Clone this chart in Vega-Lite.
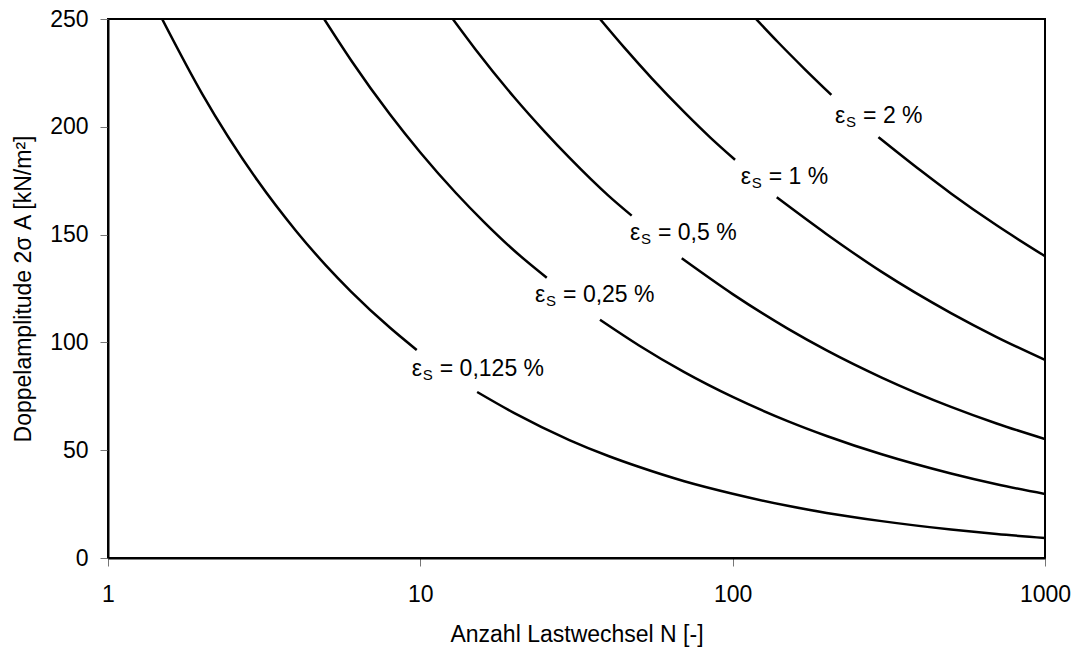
{
  "$schema": "https://vega.github.io/schema/vega-lite/v6.json",
  "width": 937,
  "height": 539,
  "autosize": {"type": "none"},
  "padding": {"left": 108, "top": 19, "right": 37, "bottom": 92},
  "background": "white",
  "config": {
    "view": {"stroke": "black", "strokeWidth": 2},
    "font": "Liberation Sans",
    "axis": {
      "grid": false,
      "domainColor": "black",
      "domainWidth": 2,
      "tickColor": "#777777",
      "tickWidth": 1,
      "tickSize": 8,
      "labelFont": "Liberation Sans",
      "labelFontSize": 23,
      "labelColor": "black",
      "titleFont": "Liberation Sans",
      "titleFontSize": 23,
      "titleFontWeight": "normal",
      "titleColor": "black"
    }
  },
  "datasets": {
    "curves": [
      {"curve": "0,125", "seg": "a", "N": 1.49, "v": 250},
      {"curve": "0,125", "seg": "a", "N": 2, "v": 215.4},
      {"curve": "0,125", "seg": "a", "N": 3, "v": 175.4},
      {"curve": "0,125", "seg": "a", "N": 4, "v": 151.7},
      {"curve": "0,125", "seg": "a", "N": 5, "v": 135.5},
      {"curve": "0,125", "seg": "a", "N": 6, "v": 123.6},
      {"curve": "0,125", "seg": "a", "N": 8, "v": 106.8},
      {"curve": "0,125", "seg": "a", "N": 9.74, "v": 96.5},
      {"curve": "0,125", "seg": "b", "N": 15.2, "v": 77},
      {"curve": "0,125", "seg": "b", "N": 20, "v": 67.2},
      {"curve": "0,125", "seg": "b", "N": 30, "v": 54.7},
      {"curve": "0,125", "seg": "b", "N": 40, "v": 47.3},
      {"curve": "0,125", "seg": "b", "N": 50, "v": 42.3},
      {"curve": "0,125", "seg": "b", "N": 70, "v": 35.6},
      {"curve": "0,125", "seg": "b", "N": 100, "v": 29.8},
      {"curve": "0,125", "seg": "b", "N": 150, "v": 24.2},
      {"curve": "0,125", "seg": "b", "N": 200, "v": 20.9},
      {"curve": "0,125", "seg": "b", "N": 300, "v": 17.1},
      {"curve": "0,125", "seg": "b", "N": 500, "v": 13.2},
      {"curve": "0,125", "seg": "b", "N": 700, "v": 11.1},
      {"curve": "0,125", "seg": "b", "N": 1000, "v": 9.3},

      {"curve": "0,25", "seg": "a", "N": 4.92, "v": 250},
      {"curve": "0,25", "seg": "a", "N": 6, "v": 230.9},
      {"curve": "0,25", "seg": "a", "N": 8, "v": 205.7},
      {"curve": "0,25", "seg": "a", "N": 10, "v": 188.1},
      {"curve": "0,25", "seg": "a", "N": 13, "v": 169.3},
      {"curve": "0,25", "seg": "a", "N": 16, "v": 155.8},
      {"curve": "0,25", "seg": "a", "N": 20, "v": 142.5},
      {"curve": "0,25", "seg": "a", "N": 25.4, "v": 130},
      {"curve": "0,25", "seg": "b", "N": 37.6, "v": 110.5},
      {"curve": "0,25", "seg": "b", "N": 50, "v": 98.7},
      {"curve": "0,25", "seg": "b", "N": 70, "v": 86.2},
      {"curve": "0,25", "seg": "b", "N": 100, "v": 74.7},
      {"curve": "0,25", "seg": "b", "N": 150, "v": 63.5},
      {"curve": "0,25", "seg": "b", "N": 200, "v": 56.6},
      {"curve": "0,25", "seg": "b", "N": 300, "v": 48.1},
      {"curve": "0,25", "seg": "b", "N": 500, "v": 39.2},
      {"curve": "0,25", "seg": "b", "N": 700, "v": 34.2},
      {"curve": "0,25", "seg": "b", "N": 1000, "v": 29.7},

      {"curve": "0,5", "seg": "a", "N": 12.7, "v": 250},
      {"curve": "0,5", "seg": "a", "N": 15, "v": 236},
      {"curve": "0,5", "seg": "a", "N": 20, "v": 213.6},
      {"curve": "0,5", "seg": "a", "N": 25, "v": 197.8},
      {"curve": "0,5", "seg": "a", "N": 30, "v": 185.7},
      {"curve": "0,5", "seg": "a", "N": 40, "v": 168.1},
      {"curve": "0,5", "seg": "a", "N": 47.5, "v": 158.8},
      {"curve": "0,5", "seg": "b", "N": 68.7, "v": 139},
      {"curve": "0,5", "seg": "b", "N": 100, "v": 122.4},
      {"curve": "0,5", "seg": "b", "N": 150, "v": 106.4},
      {"curve": "0,5", "seg": "b", "N": 200, "v": 96.3},
      {"curve": "0,5", "seg": "b", "N": 300, "v": 83.7},
      {"curve": "0,5", "seg": "b", "N": 500, "v": 70.1},
      {"curve": "0,5", "seg": "b", "N": 700, "v": 62.4},
      {"curve": "0,5", "seg": "b", "N": 1000, "v": 55.2},

      {"curve": "1", "seg": "a", "N": 37.6, "v": 250},
      {"curve": "1", "seg": "a", "N": 45, "v": 236.7},
      {"curve": "1", "seg": "a", "N": 55, "v": 222.6},
      {"curve": "1", "seg": "a", "N": 70, "v": 206.8},
      {"curve": "1", "seg": "a", "N": 85, "v": 194.9},
      {"curve": "1", "seg": "a", "N": 101.8, "v": 184.7},
      {"curve": "1", "seg": "b", "N": 138.4, "v": 167.3},
      {"curve": "1", "seg": "b", "N": 200, "v": 150.2},
      {"curve": "1", "seg": "b", "N": 300, "v": 132.7},
      {"curve": "1", "seg": "b", "N": 500, "v": 113.6},
      {"curve": "1", "seg": "b", "N": 700, "v": 102.5},
      {"curve": "1", "seg": "b", "N": 1000, "v": 91.9},

      {"curve": "2", "seg": "a", "N": 118.8, "v": 250},
      {"curve": "2", "seg": "a", "N": 140, "v": 239.1},
      {"curve": "2", "seg": "a", "N": 170, "v": 226.8},
      {"curve": "2", "seg": "a", "N": 207, "v": 214.8},
      {"curve": "2", "seg": "b", "N": 293, "v": 195.2},
      {"curve": "2", "seg": "b", "N": 400, "v": 179.7},
      {"curve": "2", "seg": "b", "N": 500, "v": 169.1},
      {"curve": "2", "seg": "b", "N": 700, "v": 154.3},
      {"curve": "2", "seg": "b", "N": 1000, "v": 140}
    ],
    "labels": [
      {"N": 9.39, "v": 84.4, "rest": "= 0,125 %"},
      {"N": 23.3, "v": 118.9, "rest": "= 0,25 %"},
      {"N": 46.9, "v": 147.5, "rest": "= 0,5 %"},
      {"N": 106.1, "v": 173.3, "rest": "= 1 %"},
      {"N": 212.8, "v": 201.6, "rest": "= 2 %"}
    ]
  },
  "encoding": {
    "x": {
      "field": "N",
      "type": "quantitative",
      "scale": {"type": "log", "domain": [1, 1000], "nice": false},
      "axis": {"values": [1, 10, 100, 1000], "format": "d", "title": "Anzahl Lastwechsel N [-]", "labelFlush": false, "labelPadding": 17, "titlePadding": 17, "tickSize": 8}
    },
    "y": {
      "field": "v",
      "type": "quantitative",
      "scale": {"domain": [0, 250], "nice": false},
      "axis": {"values": [0, 50, 100, 150, 200, 250], "title": "Doppelamplitude 2σ A [kN/m²]", "labelPadding": 12, "titlePadding": 14}
    }
  },
  "layer": [
    {
      "data": {"name": "curves"},
      "mark": {"type": "line", "color": "black", "strokeWidth": 2.5, "interpolate": "monotone", "clip": true},
      "encoding": {
        "detail": [{"field": "curve"}, {"field": "seg"}]
      }
    },
    {
      "data": {"name": "labels"},
      "mark": {"type": "text", "align": "left", "baseline": "alphabetic", "fontSize": 23, "color": "black"},
      "encoding": {"text": {"value": "ε"}}
    },
    {
      "data": {"name": "labels"},
      "mark": {"type": "text", "align": "left", "baseline": "alphabetic", "fontSize": 15, "dx": 11, "dy": 4, "color": "black"},
      "encoding": {"text": {"value": "S"}}
    },
    {
      "data": {"name": "labels"},
      "mark": {"type": "text", "align": "left", "baseline": "alphabetic", "fontSize": 23, "dx": 28, "color": "black"},
      "encoding": {"text": {"field": "rest"}}
    }
  ]
}
